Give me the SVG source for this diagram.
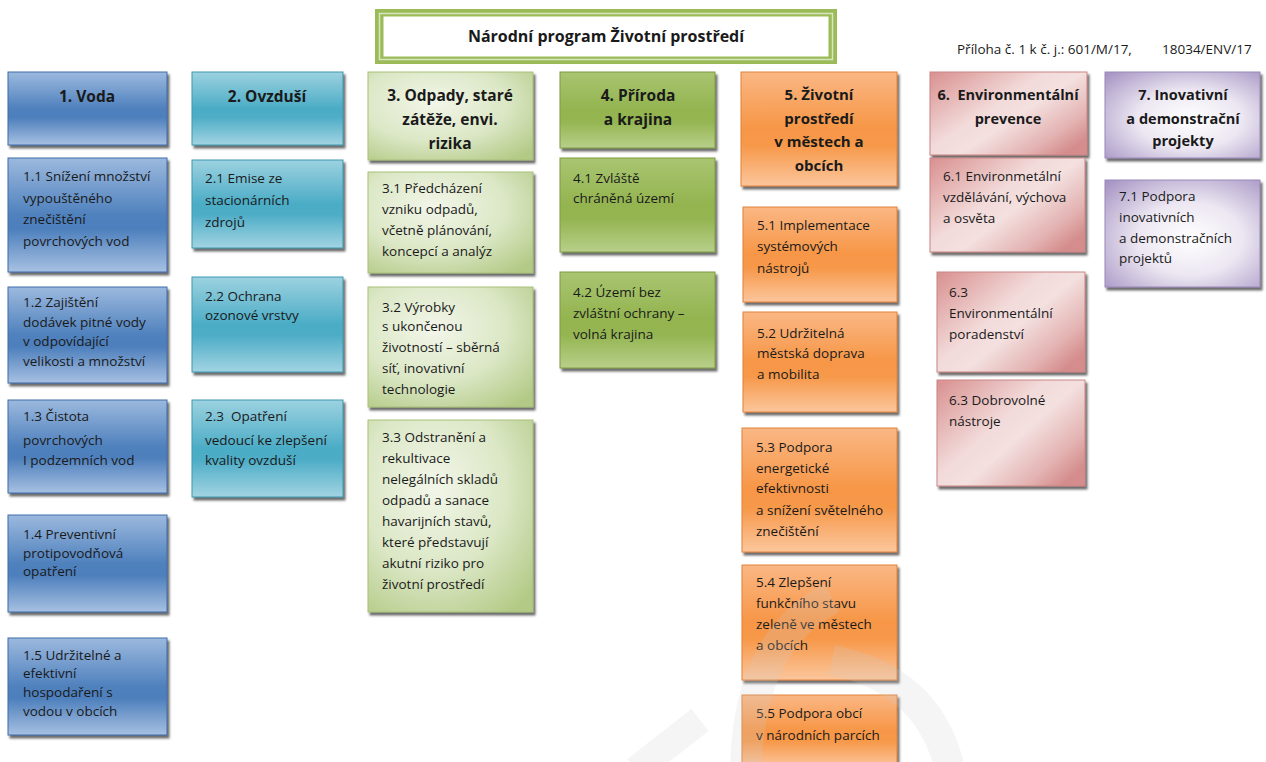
<svg xmlns="http://www.w3.org/2000/svg" width="1266" height="762" viewBox="0 0 1266 762">
<defs>
<linearGradient id="gBlue" x1="0" y1="0" x2="0" y2="1">
<stop offset="0" stop-color="#9cb9de"/><stop offset="0.5" stop-color="#4f81bd"/><stop offset="0.62" stop-color="#4d7fbc"/><stop offset="1" stop-color="#a7c0e2"/>
</linearGradient>
<linearGradient id="gCyan" x1="0" y1="0" x2="0" y2="1">
<stop offset="0" stop-color="#9cd2e0"/><stop offset="0.5" stop-color="#4bacc6"/><stop offset="0.62" stop-color="#4eadc7"/><stop offset="1" stop-color="#a2d4e2"/>
</linearGradient>
<radialGradient id="gLGreen" cx="0.4" cy="0.35" r="0.8">
<stop offset="0" stop-color="#f2f6e9"/><stop offset="0.55" stop-color="#dbe7c5"/><stop offset="1" stop-color="#b3ca86"/>
</radialGradient>
<linearGradient id="gGreen" x1="0" y1="0" x2="0" y2="1">
<stop offset="0" stop-color="#a9c571"/><stop offset="0.5" stop-color="#93b44f"/><stop offset="0.65" stop-color="#94b551"/><stop offset="1" stop-color="#b8cf8a"/>
</linearGradient>
<linearGradient id="gOrange" x1="0" y1="0" x2="0" y2="1">
<stop offset="0" stop-color="#fab784"/><stop offset="0.5" stop-color="#f79646"/><stop offset="0.65" stop-color="#f7994b"/><stop offset="1" stop-color="#fbc69c"/>
</linearGradient>
<linearGradient id="gPink" x1="0" y1="0" x2="1" y2="0.8">
<stop offset="0" stop-color="#d8908f"/><stop offset="0.45" stop-color="#f2dbda"/><stop offset="0.6" stop-color="#f3e0df"/><stop offset="0.85" stop-color="#e3b3b2"/><stop offset="1" stop-color="#d48d8c"/>
</linearGradient>
<radialGradient id="gPurple" cx="0.55" cy="0.55" r="0.75">
<stop offset="0" stop-color="#ffffff"/><stop offset="0.45" stop-color="#ece7f2"/><stop offset="1" stop-color="#a694c4"/>
</radialGradient>
<filter id="sh" x="-10%" y="-10%" width="125%" height="130%">
<feDropShadow dx="2" dy="3" stdDeviation="1.2" flood-color="#3a3a3a" flood-opacity="0.75"/>
</filter>
</defs>
<style>
text{font-family:"Open Sans",Lato,"Liberation Sans",sans-serif;fill:#1a1a1a}
.t{font-size:13.5px}
.h{font-size:15.5px;font-weight:bold;text-anchor:middle}
.h5{font-size:15px}
.h6{font-size:14.5px}
.b{filter:url(#sh)}
.blue{fill:url(#gBlue);stroke:#3d6ca8;stroke-width:1}
.cyan{fill:url(#gCyan);stroke:#3f98b0;stroke-width:1}
.lg{fill:url(#gLGreen);stroke:#a9c07a;stroke-width:1}
.gr{fill:url(#gGreen);stroke:#7d9c42;stroke-width:1}
.or{fill:url(#gOrange);stroke:#e0823a;stroke-width:1}
.pk{fill:url(#gPink);stroke:#c98584;stroke-width:1}
.pu{fill:url(#gPurple);stroke:#9a89b8;stroke-width:1}
</style>
<rect width="1266" height="762" fill="#ffffff"/>

<g id="title">
<rect x="375" y="9" width="462" height="55" fill="#9bbb59"/>
<rect x="379.5" y="13.5" width="453" height="46" fill="none" stroke="#d8e5bf" stroke-width="1.5"/>
<rect x="383" y="16" width="446" height="41" fill="#ffffff" stroke="#9bbb59" stroke-width="1"/>
<text x="606" y="42" style="font-size:16px;font-weight:bold;text-anchor:middle">Národní program Životní prostředí</text>
</g>
<g id="annex"><text x="957" y="54" style="font-size:13.5px" xml:space="preserve">Příloha č. 1 k č. j.: 601/M/17,   <tspan x="1162">18034/ENV/17</tspan></text></g>

<g id="col1">
<g id="n1"><rect class="b blue" x="8" y="72" width="159" height="73"/><text class="h" x="87" y="102">1. Voda</text></g>
<g id="n1-1"><rect class="b blue" x="8" y="158" width="159" height="114"/><text class="t" x="23" y="181">1.1 Snížení množství</text><text class="t" x="23" y="202.5">vypouštěného</text><text class="t" x="23" y="224">znečištění</text><text class="t" x="23" y="245.5">povrchových vod</text></g>
<g id="n1-2"><rect class="b blue" x="8" y="287" width="159" height="96"/><text class="t" x="23" y="307">1.2 Zajištění</text><text class="t" x="23" y="327">dodávek pitné vody</text><text class="t" x="23" y="346">v odpovídající</text><text class="t" x="23" y="366">velikosti a množství</text></g>
<g id="n1-3"><rect class="b blue" x="8" y="400" width="159" height="93"/><text class="t" x="23" y="421">1.3 Čistota</text><text class="t" x="23" y="445">povrchových</text><text class="t" x="23" y="465">I podzemních vod</text></g>
<g id="n1-4"><rect class="b blue" x="8" y="515" width="159" height="97"/><text class="t" x="23" y="539">1.4 Preventivní</text><text class="t" x="23" y="558">protipovodňová</text><text class="t" x="23" y="576">opatření</text></g>
<g id="n1-5"><rect class="b blue" x="8" y="638" width="159" height="97"/><text class="t" x="23" y="660">1.5 Udržitelné a</text><text class="t" x="23" y="678">efektivní</text><text class="t" x="23" y="697">hospodaření s</text><text class="t" x="23" y="716">vodou v obcích</text></g>
</g>

<g id="col2">
<g id="n2"><rect class="b cyan" x="192" y="72" width="151" height="73"/><text class="h" x="267" y="102">2. Ovzduší</text></g>
<g id="n2-1"><rect class="b cyan" x="192" y="160" width="151" height="88"/><text class="t" x="205" y="183">2.1 Emise ze</text><text class="t" x="205" y="205">stacionárních</text><text class="t" x="205" y="227">zdrojů</text></g>
<g id="n2-2"><rect class="b cyan" x="192" y="277" width="151" height="95"/><text class="t" x="205" y="301">2.2 Ochrana</text><text class="t" x="205" y="320">ozonové vrstvy</text></g>
<g id="n2-3"><rect class="b cyan" x="192" y="400" width="151" height="97"/><text class="t" x="205" y="421" xml:space="preserve">2.3  Opatření</text><text class="t" x="205" y="445">vedoucí ke zlepšení</text><text class="t" x="205" y="465">kvality ovzduší</text></g>
</g>

<g id="col3">
<g id="n3"><rect class="b lg" x="368" y="72" width="165" height="88"/><text class="h" x="450" y="101">3. Odpady, staré</text><text class="h" x="450" y="125">zátěže, envi.</text><text class="h" x="450" y="149">rizika</text></g>
<g id="n3-1"><rect class="b lg" x="368" y="172" width="165" height="101"/><text class="t" x="382" y="193">3.1 Předcházení</text><text class="t" x="382" y="214">vzniku odpadů,</text><text class="t" x="382" y="235">včetně plánování,</text><text class="t" x="382" y="256">koncepcí a analýz</text></g>
<g id="n3-2"><rect class="b lg" x="368" y="287" width="165" height="120"/><text class="t" x="382" y="312">3.2 Výrobky</text><text class="t" x="382" y="331">s ukončenou</text><text class="t" x="382" y="352">životností – sběrná</text><text class="t" x="382" y="373">síť, inovativní</text><text class="t" x="382" y="394">technologie</text></g>
<g id="n3-3"><rect class="b lg" x="368" y="420" width="165" height="192"/><text class="t" x="382" y="442">3.3 Odstranění a</text><text class="t" x="382" y="463">rekultivace</text><text class="t" x="382" y="484">nelegálních skladů</text><text class="t" x="382" y="505">odpadů a sanace</text><text class="t" x="382" y="526">havarijních stavů,</text><text class="t" x="382" y="547">které představují</text><text class="t" x="382" y="568">akutní riziko pro</text><text class="t" x="382" y="589">životní prostředí</text></g>
</g>

<g id="col4">
<g id="n4"><rect class="b gr" x="560" y="72" width="155" height="76"/><text class="h" x="638" y="101">4. Příroda</text><text class="h" x="638" y="125">a krajina</text></g>
<g id="n4-1"><rect class="b gr" x="560" y="158" width="155" height="94"/><text class="t" x="573" y="183">4.1 Zvláště</text><text class="t" x="573" y="203">chráněná území</text></g>
<g id="n4-2"><rect class="b gr" x="560" y="272" width="155" height="96"/><text class="t" x="573" y="297">4.2 Území bez</text><text class="t" x="573" y="318">zvláštní ochrany –</text><text class="t" x="573" y="339">volná krajina</text></g>
</g>

<g id="col5">
<g id="n5"><rect class="b or" x="741" y="72" width="156" height="114"/><text class="h h5" x="819" y="100">5. Životní</text><text class="h h5" x="819" y="124">prostředí</text><text class="h h5" x="819" y="147">v městech a</text><text class="h h5" x="819" y="171">obcích</text></g>
<g id="n5-1"><rect class="b or" x="743" y="207" width="154" height="95"/><text class="t" x="757" y="230">5.1 Implementace</text><text class="t" x="757" y="251">systémových</text><text class="t" x="757" y="273">nástrojů</text></g>
<g id="n5-2"><rect class="b or" x="743" y="312" width="154" height="100"/><text class="t" x="757" y="338">5.2 Udržitelná</text><text class="t" x="757" y="358">městská doprava</text><text class="t" x="757" y="379">a mobilita</text></g>
<g id="n5-3"><rect class="b or" x="742" y="428" width="155" height="124"/><text class="t" x="756" y="452">5.3 Podpora</text><text class="t" x="756" y="473">energetické</text><text class="t" x="756" y="493">efektivnosti</text><text class="t" x="756" y="515">a snížení světelného</text><text class="t" x="756" y="536">znečištění</text></g>
<g id="n5-4"><rect class="b or" x="742" y="565" width="155" height="115"/><text class="t" x="756" y="587">5.4 Zlepšení</text><text class="t" x="756" y="608">funkčního stavu</text><text class="t" x="756" y="629">zeleně ve městech</text><text class="t" x="756" y="650">a obcích</text></g>
<g id="n5-5"><rect class="b or" x="742" y="695" width="155" height="72"/><text class="t" x="756" y="718">5.5 Podpora obcí</text><text class="t" x="756" y="740">v národních parcích</text></g>
</g>

<g id="col6">
<g id="n6"><rect class="b pk" x="930" y="72" width="157" height="83"/><text class="h h6" x="1008" y="100" xml:space="preserve">6.  Environmentální</text><text class="h h6" x="1008" y="124">prevence</text></g>
<g id="n6-1"><rect class="b pk" x="930" y="158" width="155" height="94"/><text class="t" x="943" y="181">6.1 Environmetální</text><text class="t" x="943" y="202">vzdělávání, výchova</text><text class="t" x="943" y="223">a osvěta</text></g>
<g id="n6-2"><rect class="b pk" x="937" y="272" width="148" height="100"/><text class="t" x="949" y="297">6.3</text><text class="t" x="949" y="318">Environmentální</text><text class="t" x="949" y="339">poradenství</text></g>
<g id="n6-3"><rect class="b pk" x="937" y="380" width="148" height="106"/><text class="t" x="949" y="405">6.3 Dobrovolné</text><text class="t" x="949" y="426">nástroje</text></g>
</g>

<g id="col7">
<g id="n7"><rect class="b pu" x="1105" y="72" width="155" height="86"/><text class="h h6" x="1183" y="100">7. Inovativní</text><text class="h h6" x="1183" y="124">a demonstrační</text><text class="h h6" x="1183" y="146">projekty</text></g>
<g id="n7-1"><rect class="b pu" x="1105" y="180" width="155" height="107"/><text class="t" x="1119" y="201">7.1 Podpora</text><text class="t" x="1119" y="222">inovativních</text><text class="t" x="1119" y="243">a demonstračních</text><text class="t" x="1119" y="263">projektů</text></g>
</g>

<g id="connectors"/>

<g id="watermark" fill="none" stroke="#cfcfcf" stroke-opacity="0.2" stroke-linecap="butt">
<path d="M 832 598 Q 748 640 746 770" stroke-width="32"/>
<path d="M 832 660 Q 930 680 950 770" stroke-width="30"/>
<path d="M 700 720 L 636 770" stroke-width="28"/>
</g>
</svg>
